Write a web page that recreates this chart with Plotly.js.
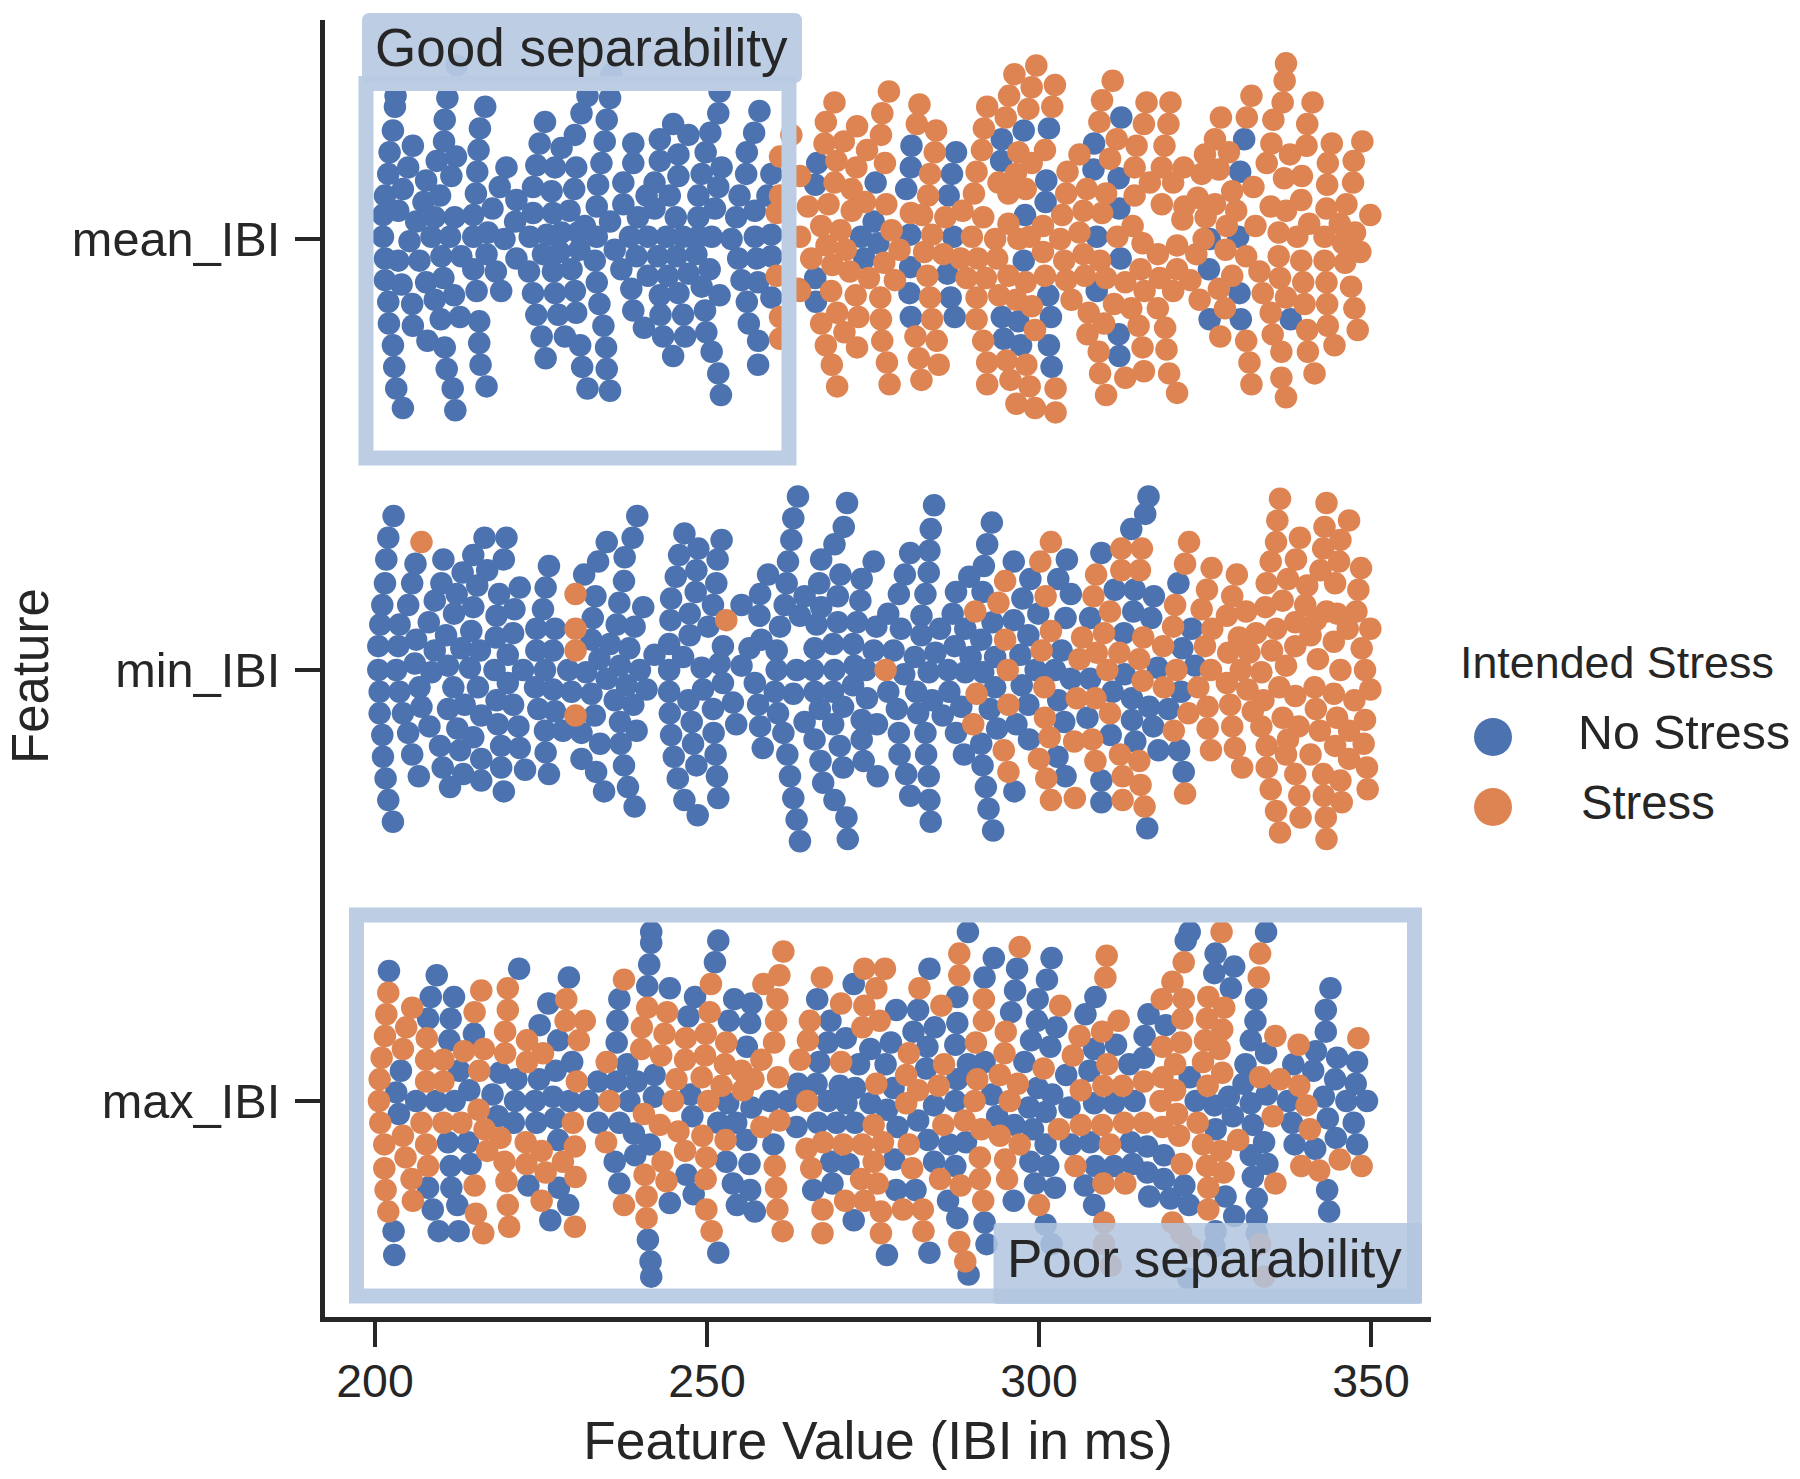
<!DOCTYPE html>
<html><head><meta charset="utf-8">
<script src="https://cdn.plot.ly/plotly-3.0.1.min.js"></script>
<style>html,body{margin:0;padding:0;background:#fff}#c{width:1800px;height:1479px}</style></head>
<body><div id="c"></div>
<script>
// Feature categories, top to bottom
const features = ["mean_IBI","min_IBI","max_IBI"];
const seriesNames = ["No Stress","Stress"];
const xTicks = [200,250,300,350];
// Each list: value (ms), swarm row, value (ms), swarm row, ...
const mean_no_stress = [
203.1,-6.6,203.0,-6.1,202.7,-5.0,202.2,-4.0,202.0,-3.0,201.5,-2.0,201.2,-1.1,201.2,-0.1,201.5,0.9,201.5,1.9,202.0,2.9,202.1,3.9,202.7,4.9,202.9,5.9,203.2,6.9,204.2,7.8,
205.7,-4.3,205.0,-3.3,204.2,-2.3,203.5,-1.3,205.2,0.1,203.5,1.0,204.0,2.1,205.6,3.0,205.7,4.0,207.9,4.7,210.5,5.0,210.8,6.0,211.7,6.9,212.1,7.9,
212.3,-8.0,210.9,-6.5,210.5,-5.5,210.4,-4.5,209.3,-3.6,207.7,-2.7,207.3,-1.7,206.2,-0.8,208.5,-0.1,206.7,1.0,207.7,2.0,209.0,2.8,209.9,3.7,212.8,3.6,215.7,3.8,215.7,4.8,215.9,5.8,216.8,6.8,
212.2,-3.8,211.5,-2.9,209.8,-2.0,209.0,-1.0,211.3,-0.1,210.0,0.8,213.0,0.8,210.3,1.8,211.9,2.6,215.3,2.4,
216.6,-6.1,215.8,-5.1,215.6,-4.1,215.4,-3.1,215.2,-2.1,214.8,-1.1,212.0,-1.0,214.8,-0.1,214.8,1.4,216.8,0.7,
217.7,-1.4,217.0,-0.3,218.8,-2.4,219.8,-3.3,219.5,0,221.3,0.9,218.2,1.5,219.0,2.4,
221.3,-1.8,221.1,-0.8,223.3,-0.1,223.2,1.5,223.8,2.5,224.3,3.5,225.1,4.5,225.7,5.5,
225.6,-5.4,224.8,-4.4,224.3,-3.4,223.8,-2.4,223.8,-1.2,225.3,0.7,
226.8,-1.2,226.6,-2.2,227.1,-3.3,228.1,-4.2,230.1,-4.8,231.1,-5.8,232.0,-6.6,
230.3,-3.3,230.0,-2.3,229.3,-1.3,225.9,-0.2,228.1,-0.3,230.6,-0.3,227.8,0.6,226.8,1.5,227.1,2.5,227.6,3.5,228.6,4.5,230.9,4.9,231.2,5.9,232.0,6.9,
235.6,-7.6,235.4,-6.5,234.9,-5.5,234.6,-4.5,234.1,-3.5,233.6,-2.5,233.4,-1.5,231.6,-0.6,233.4,-0.1,230.8,0.5,233.1,1.0,229.6,1.4,230.1,2.4,230.3,3.4,233.4,2.0,233.8,3.0,234.4,4.0,234.8,5.0,234.9,6.0,235.4,7.0,
236.1,0.5,235.4,-0.8,237.4,-1.6,237.4,-2.6,238.9,-3.5,238.9,-4.4,239.6,-1.0,238.4,-0.1,239.4,0.8,237.1,1.4,238.6,2.3,238.9,3.3,240.5,4.1,
242.9,-4.6,242.9,-3.6,242.1,-2.6,240.9,-2.0,242.1,-1.4,241.1,-0.1,243.9,-0.1,241.1,1.7,242.6,0.8,244.9,-5.3,247.2,-4.8,245.7,-3.9,245.7,-2.9,244.4,-2.0,245.3,-1.0,246.4,-0.1,245.4,0.8,244.1,1.7,247.2,1.6,242.9,2.6,245.7,2.5,243.0,3.5,246.4,3.5,243.4,4.5,246.7,4.5,244.9,5.4,
249.2,-3.0,249.8,-4.0,250.5,-4.9,251.7,-5.8,251.9,-6.8,252.2,-3.3,251.7,-2.4,248.7,-2.0,251.2,-1.4,248.7,-1.0,248.7,-0.1,250.7,-0.1,248.4,0.7,250.4,1.4,249.2,2.2,251.9,2.6,249.7,3.3,249.9,4.3,250.7,5.2,251.7,6.2,252.1,7.2,
257.9,-5.9,257.1,-4.9,256.0,-4.0,255.9,-3.0,254.9,-2.0,257.2,-1.3,254.4,-1.0,253.7,0,257.2,-0.1,254.7,0.9,257.5,0.9,255.2,1.9,257.7,2.0,256.0,2.9,256.3,3.9,257.7,4.7,257.7,5.8,
259.7,-3.0,259.1,-2.0,259.7,-0.2,259.7,0.8,259.7,2.7,
266.6,-3.5,266.3,-2.5,275.4,-2.6,280.8,-4.3,280.7,-3.3,280.0,-2.3,287.5,-4.0,286.9,-3.0,286.4,-2.0,275.1,-0.8,273.2,-0.1,275.8,0.2,273.7,0.9,280.6,-0.2,287.1,-0.1,280.6,1.3,286.2,1.6,266.3,1.8,266.4,2.9,280.5,2.5,286.7,2.7,280.7,3.6,287.3,3.6,
294.4,-4.6,297.7,-5.0,301.5,-5.1,294.3,-3.6,301.1,-2.7,301.0,-1.7,297.9,-1.1,297.7,1.0,301.4,2.6,301.8,3.6,294.4,3.6,296.9,3.8,294.7,4.6,297.3,4.9,301.5,4.9,301.9,5.9,
308.3,-4.4,312.4,-5.6,308.2,-3.2,312.0,-2.8,312.1,-1.4,308.7,-0.1,312.3,0.9,308.7,2.4,312.0,4.4,312.1,5.4,
330.9,-4.6,330.3,-3.1,325.7,0,330.0,-0.1,325.6,1.4,330.2,2.5,325.7,3.7,330.4,3.7,337.9,3.7];
const mean_stress = [
262.7,-4.8,261.0,-3.8,261.0,-2.0,260.5,-1.2,260.5,1.7,263.7,2.3,261.0,3.6,261.0,4.6,
269.2,-6.3,267.9,-5.4,267.7,-4.4,270.6,-4.5,272.6,-5.2,269.5,-3.6,269.2,-2.6,272.5,-3.3,274.1,-4.1,271.8,-2.3,277.4,-6.8,276.4,-5.8,276.2,-4.8,276.8,-3.5,
264.0,-2.9,265.2,-1.5,268.3,-1.6,271.8,-1.3,273.8,-1.7,277.0,-1.6,267.2,-0.6,270.1,-0.4,277.8,-0.4,264,-0.1,268.0,0.3,270.9,0.5,265.7,0.9,268.9,1.2,271.5,1.5,276.7,1.1,279.0,0.5,274.4,1.8,278.3,1.9,264,2.4,268.7,2.4,272.4,2.6,276.1,2.7,269.6,3.4,272.8,3.6,267.2,3.9,276.2,3.7,270.7,4.3,267.9,4.9,272.6,5.0,276.4,4.7,268.8,5.8,277.1,5.7,269.6,6.8,277.5,6.7,
282.0,-6.2,281.6,-5.3,284.5,-5.0,284.3,-4.0,283.6,-3.0,283.3,-2.0,280.7,-1.2,282.4,-1.1,283.9,-0.2,282.7,0.6,285.6,0.7,283.2,1.7,283.6,2.7,283.9,3.7,281.4,4.5,284.6,4.7,281.9,5.5,284.9,5.8,282.3,6.5,
285.9,-1.0,288.5,-1.3,291.6,-1.0,289.9,-0.1,288.2,0.9,290.8,0.9,293.7,0.9,289.1,1.8,292.0,1.8,290.6,2.7,290.6,3.7,291.6,4.7,292.2,5.7,295.1,5.6,298.1,5.8,292.2,6.7,295.7,6.5,298.6,6.8,302.5,6.9,296.6,7.6,299.4,7.8,302.5,8.0,
292.2,-6.1,291.7,-5.1,291.4,-4.1,290.6,-3.1,290.2,-2.1,293.9,-2.6,296.5,-3.0,298.9,-3.5,296.9,-4.0,300.9,-4.1,296.3,-7.6,299.6,-8.0,302.4,-7.1,295.5,-6.6,298.9,-7.0,302.0,-6.1,298.4,-6.0,295.0,-5.6,
298.0,-2.3,295.4,-2.1,295.4,-0.7,293.4,0,296.9,0,300.6,-0.6,303.5,-1.1,298.6,-0.1,300.6,0.6,295.4,1.7,298.0,2.0,300.9,1.7,294.0,2.6,296.6,2.8,298.9,3.1,299.4,4.2,
303.2,0,306.1,-0.3,303.8,1.0,306.7,0.7,309.2,1.0,304.1,1.9,306.9,1.7,310.1,1.8,313.0,2.0,304.9,2.8,307.5,3.4,311.3,3.0,313.9,3.2,309.8,3.9,307.3,4.4,315.0,4.0,309.0,5.2,315.6,5.0,309.2,6.2,313.0,6.4,315.8,6.1,310.1,7.2,
304.3,-3.1,306.1,-3.9,304.1,-2.1,307.2,-2.3,310.1,-2.1,306.7,-1.3,309.5,-1.2,
311.1,-7.3,309.5,-6.4,309.1,-5.4,311.7,-4.6,310.7,-3.7,314.7,-4.3,314.4,-3.3,314.4,-2.0,314.1,-0.6,311.8,-0.1,
316.2,-6.3,319.8,-6.3,315.8,-5.3,319.5,-5.3,318.9,-4.3,318.5,-3.3,321.8,-3.3,316.7,-2.6,320.2,-2.6,318.5,-1.6,321.9,-1.5,315.6,0.2,317.9,0.7,320.8,0.3,315.3,1.4,320.8,1.4,318.2,1.8,315.9,2.4,320.2,2.4,322.8,1.9,317.9,3.2,324.2,2.8,319.0,4.1,319.2,5.1,319.6,6.2,320.8,7.1,
327.4,-5.6,326.5,-4.6,325.0,-3.9,328.6,-4.0,324.5,-3.0,327.1,-3.2,323.9,-1.9,326.5,-1.6,329.1,-2.2,321.6,-0.9,325.1,-1.0,328.3,-0.6,332.6,-0.6,332.0,-6.6,331.3,-5.6,337.2,-8.1,337.0,-7.3,336.7,-6.3,335.3,-5.5,335.0,-4.4,334.3,-3.5,332.3,-2.4,334.9,-1.5,337.8,-3.9,341.2,-6.3,340.4,-5.3,340.3,-4.3,344.1,-4.4,348.7,-4.5,343.5,-3.5,347.4,-3.6,343.4,-2.5,347.3,-2.6,339.6,-2.9,336.9,-2.8,339.5,-1.8,343.3,-1.4,346.3,-1.6,349.9,-1.1,340.7,-0.7,345.3,-0.7,336.1,-0.3,338.9,-0.1,343.0,-0.1,347.6,-0.3,
323.7,0.7,328.1,0.5,331.2,0.8,336.1,0.8,339.5,1.0,343.0,1.0,348.4,0.6,345.8,0.2,346.1,1.1,329.1,1.7,333.2,1.5,336.3,1.8,339.8,2.0,343.3,2.0,327.1,2.3,333.7,2.5,337.2,2.7,340.0,3.0,343.4,3.0,347.0,2.2,328.0,3.2,334.9,3.4,347.5,3.2,340.4,4.2,343.5,4.0,348.0,4.2,327.3,4.5,331.2,4.7,335.2,4.4,336.5,5.2,340.5,5.2,344.5,4.9,331.7,5.7,336.5,6.4,341.5,6.2,332.0,6.7,337.2,7.3,
329.7,-1.3,337.2,-1.3,324.8,0];
const min_no_stress = [
202.8,-7.1,202.0,-6.1,201.7,-5.1,201.5,-4.0,201.1,-3.0,200.8,-2.1,200.5,-1.1,200.5,0,200.7,1.0,200.7,2.0,201.1,3.0,201.2,4.0,201.6,5.0,202.0,6.0,202.7,7.0,
206.1,-4.9,205.6,-4.0,205.0,-3.0,203.7,-2.1,203.5,-1.1,203.2,0,203.7,1.0,204.2,2.0,205.0,2.9,205.6,3.9,206.6,4.9,
210.3,-5.1,210.0,-4.0,209.0,-3.2,208.1,-2.2,206.2,-1.4,206.0,-0.3,206.7,0.8,207.0,1.7,208.2,2.6,209.8,3.5,210.2,4.5,211.3,5.4,
216.5,-6.1,214.8,-5.3,213.2,-4.5,212.3,-3.5,211.9,-2.6,210.7,-1.6,209.0,-0.9,208.5,0.1,211.8,0.8,211.0,1.8,212.4,2.7,212.8,3.7,213.3,4.8,
219.8,-6.1,219.4,-5.1,216.9,-4.6,215.4,-3.9,214.8,-2.9,214.5,-1.8,213.0,-1.0,211.0,-0.2,214.3,-0.1,215.8,-0.9,215.5,0.8,213.5,1.6,216.0,2.1,214.8,3.1,216.0,4.1,216.0,5.1,
221.8,-3.8,218.7,-3.5,221.0,-2.8,218.3,-2.5,220.8,-1.7,218.2,-1.5,220.0,-0.7,218.0,0,220.0,0.6,218.3,1.4,220.8,1.6,218.5,2.5,221.6,2.6,219.0,3.5,221.8,3.6,219.0,4.5,222.6,4.6,219.4,5.6,
226.2,-4.8,225.7,-3.8,225.3,-2.8,224.3,-1.9,227.1,-1.9,224.3,-0.9,226.8,-0.9,222.3,0,225.6,0,224.1,0.8,226.8,0.9,224.6,1.8,227.1,1.9,225.6,2.8,228.3,2.8,225.7,3.8,226.2,4.8,
239.5,-7.1,238.8,-6.1,237.6,-5.2,234.9,-5.9,233.6,-5.0,231.5,-4.4,237.5,-4.1,233.2,-3.4,236.8,-3.1,232.8,-2.4,240.4,-2.9,236.4,-2.1,239.1,-2.0,232.6,-1.4,235.4,-1.2,238.3,-1.0,233.8,-0.5,236.9,-0.2,229.1,0,231.8,0.1,239.9,0,234.9,0.4,237.9,0.7,240.9,0.9,229.6,1.0,232.6,1.1,236.1,1.4,238.9,1.6,233.1,2.1,236.9,2.4,239.4,2.8,231.1,2.9,233.9,3.4,237.0,3.4,231.1,4.1,237.5,4.4,233.3,4.7,238.1,5.4,234.5,5.6,239.1,6.3,
246.6,-6.3,248.7,-5.6,245.8,-5.3,252.2,-6.0,251.6,-5.1,248.4,-4.6,245.3,-4.3,251.4,-4.0,248.3,-3.6,244.6,-3.3,250.9,-3.0,247.4,-2.6,244.5,-2.3,255.2,-3.0,250.2,-2.0,247.4,-1.6,244.3,-1.2,242.1,-0.7,246.4,-0.6,244.3,0,249.2,-0.1,252.4,-1.1,256.4,-1.0,251.9,-0.3,255.2,-0.2,252.4,0.6,244.3,1.0,249.4,0.9,253.9,1.5,247.2,1.4,244.4,2.0,250.9,1.8,247.7,2.4,254.4,2.5,244.6,3.0,251.0,2.9,247.9,3.4,251.3,3.9,245.0,4.0,248.4,4.4,251.5,4.9,245.6,5.0,251.7,5.9,246.6,6.0,248.6,6.7,
263.7,-8.0,263.0,-7.0,262.7,-6.0,262.2,-5.0,259.2,-4.4,262.0,-4.0,258.0,-3.5,261.7,-3.0,257.9,-2.5,261.0,-2.0,264.0,-2.5,258.2,-1.4,260.5,-0.9,257.2,0.6,260.5,0,263.5,0,260.2,1.0,257.7,1.6,263.0,1.1,260.7,2.0,258.0,2.6,261.5,2.9,258.4,3.6,262.1,3.9,262.5,4.9,263.0,5.9,263.5,6.9,264.0,7.9,
271.1,-7.7,270.6,-6.6,269.2,-5.8,267.2,-5.1,266.9,-4.0,270.1,-4.4,264.7,-3.4,269.7,-3.4,267.2,-2.9,266.5,-2.1,269.7,-2.2,266.2,-1.0,269.0,-1.2,272.0,-1.2,266.0,0,269.2,0,272.2,-0.2,266.2,1.0,269.0,1.0,272.0,0.7,267.0,1.8,270.5,1.7,264.7,2.4,269.0,2.5,273.3,2.3,266.2,3.2,270.0,3.5,267.1,4.2,270.5,4.5,267.5,5.2,269.2,6.0,271.0,6.8,271.2,7.8,
275.1,-5.0,273.3,-4.2,273.1,-3.2,277.3,-2.6,275.5,-2.0,272.6,-2.2,279.2,-1.9,275.1,-0.9,278.1,-0.9,273.9,0,279.7,0.2,274.1,1.3,277.3,1.0,278.6,1.8,275.6,2.5,278.9,2.9,273.3,3.2,273.6,4.2,279.0,3.9,275.7,4.9,280.0,4.8,280.6,5.8,
284.2,-7.6,283.7,-6.5,283.5,-5.5,280.6,-5.4,279.8,-4.4,283.4,-4.5,278.9,-3.5,282.9,-3.5,282.3,-2.5,282.3,-1.6,285.1,-1.9,281.3,-0.6,284.4,-0.8,283.4,0.1,281.5,1.0,286.3,0,286.5,1.0,281.8,2.0,283.9,1.4,285.5,2.1,282.9,2.9,283.0,3.9,283.4,4.9,283.5,6.0,283.7,7.0,
292.9,-6.8,292.2,-5.8,291.7,-4.8,289.5,-4.3,287.5,-3.6,291.5,-3.6,287.0,-2.6,288.9,-1.9,291.3,-1.4,287.3,-1.1,289.7,-0.6,293.4,-0.6,288.9,0.1,291.6,0.1,288.3,1.7,293.4,0.8,292.6,1.8,287.5,2.9,293.7,2.7,296.6,2.5,288.7,3.9,291.3,3.4,291.5,4.4,292.0,5.4,292.4,6.4,293.1,7.4,
296.2,-5.0,298.7,-4.2,297.5,-3.3,296.2,-2.3,293.0,-2.2,298.4,-1.6,299.9,-2.6,297.2,-0.7,297.4,0.7,298.4,1.6,298.5,3.2,296.3,5.6,
304.2,-5.1,302.9,-4.2,304.8,-3.5,304.0,-2.4,303.4,-0.9,299.5,0,302.4,0,304.8,0.4,307.7,0.4,302.9,1.4,303.8,2.4,307.3,2.2,302.8,4.0,304.0,4.9,
309.4,-5.4,311.4,-3.7,307.7,-2.4,314.4,-3.7,317.3,-3.4,314.2,-2.7,316.9,-2.4,312.8,-1.7,312.9,0.2,311.1,1.0,314.0,1.3,316.6,1.7,319.5,1.8,314.0,2.3,317.2,2.6,310.8,3.0,314.5,3.3,318.0,3.7,321.1,3.7,321.8,4.7,309.4,5.1,309.4,6.1,316.3,7.3,
313.9,-6.5,316.0,-7.2,316.5,-8.0,321.0,-4.0,323.0,-1.9,321.6,-1.0,323.5,-0.2,317.9,-0.1,321.4,1.0];
const min_stress = [
207.0,-5.9,230.2,-3.5,230.2,-1.9,230.2,-0.9,230.2,2.1,252.9,-2.3,276.9,0,
290.4,-2.7,293.9,-3.1,294.9,-4.1,300.2,-5.0,301.8,-5.9,301.0,-3.4,294.9,-1.4,295.3,0,290.6,1.1,295.4,1.6,290.1,2.5,301.8,-1.8,300.4,-0.9,306.5,-1.5,306.1,-0.5,308.6,-4.4,308.2,-3.4,310.7,-2.7,309.8,-1.7,308.7,-0.8,312.1,-0.8,315.7,-1.5,315.1,-0.5,310.3,0,315.6,0.5,318.8,0.8,318.7,-1.1,300.8,0.8,305.7,1.3,308.5,1.3,310.7,2.0,300.9,2.2,301.6,3.1,305.3,3.3,308.0,3.2,294.7,3.7,295.4,4.7,300.0,4.1,301.1,5.0,301.8,6.0,305.4,5.9,308.5,4.2,312.2,3.9,315.1,4.2,312.6,4.9,315.3,5.3,312.6,6.0,315.9,6.3,322.0,5.7,320.3,2.8,312.4,-5.6,315.5,-5.6,312.4,-4.6,315.2,-4.6,322.6,-5.9,322.0,-4.9,320.5,-3.0,320.2,-2.0,320.7,0,324.5,-2.8,325.0,-1.1,325.3,-3.7,326.0,-4.7,329.8,-4.4,329.1,-3.4,
336.3,-7.9,343.3,-7.7,335.9,-6.9,346.7,-6.9,343.0,-6.6,335.7,-5.9,339.3,-6.1,345.4,-6.0,342.8,-5.6,334.9,-5.0,338.7,-5.1,345.2,-5.0,342.4,-4.6,348.5,-4.7,334.3,-4.0,337.5,-4.2,340.4,-3.9,344.6,-4.0,348.1,-3.7,336.7,-3.2,334.1,-2.9,340.1,-3.0,343.3,-2.7,331.2,-2.7,328.3,-2.5,347.8,-2.7,344.9,-2.6,326.1,-1.9,330.1,-1.5,332.7,-1.7,335.7,-1.9,338.6,-2.2,341.7,-2.3,346.5,-1.9,349.9,-1.9,328.5,-0.8,331.7,-0.8,335.1,-0.9,338.6,-1.1,340.9,-1.6,344.4,-1.3,348.6,-1.0,325.9,0,330.4,0,333.5,0.1,337.2,-0.2,342.0,-0.5,345.4,0,349.1,0,324.0,0.8,328.3,0.6,331.4,0.9,336.2,0.8,341.5,0.8,344.4,1.1,349.9,0.9,325.4,1.7,322.5,2.0,328.8,1.6,333.8,1.4,338.6,1.2,347.5,1.4,332.2,1.9,341.7,1.8,336.7,2.2,344.9,2.2,349.1,2.3,325.4,2.7,329.1,2.6,333.5,2.6,339.1,2.6,342.3,2.8,346.7,2.8,325.9,3.7,329.5,3.6,334.3,3.5,337.5,3.2,344.6,3.5,348.9,3.4,340.9,3.9,337.2,3.9,346.7,4.1,330.6,4.5,334.3,4.5,338.6,4.8,342.8,4.8,349.4,4.5,345.4,5.1,334.9,5.5,339.2,5.8,342.9,5.8,349.5,5.5,345.6,6.1,335.7,6.5,339.4,6.8,343.2,6.8,336.3,7.5,343.3,7.8];
const max_no_stress = [
202.1,-6.0,209.3,-5.8,221.7,-6.1,229.2,-5.7,208.4,-4.8,211.9,-4.8,226.1,-4.5,208.0,-3.8,211.4,-3.8,224.8,-3.5,214.9,-3.1,211.2,-2.8,227.6,-2.8,229.7,-1.8,203.9,-1.4,212.7,-1.4,218.8,-1.3,221.3,-1.0,224.7,-1.0,227.2,-1.4,238.0,-1.7,242.1,-1.2,233.6,-0.9,236.4,-0.9,239.4,-0.9,203.2,-0.4,214.2,-0.5,217.7,-0.3,206.2,0,209.2,0,212.0,0,221.1,0,224.1,0,226.8,-0.2,229.3,0,232.1,0,238.3,0,242.0,-0.2,203.6,0.6,218.5,0.7,220.9,1.0,224.3,1.0,227.1,0.8,233.6,1.0,236.8,1.0,239.0,1.5,227.6,1.8,241.4,2.0,211.0,1.9,214.0,1.9,239.2,2.5,236.1,2.8,211.4,3.0,214.4,2.9,236.8,3.8,208.0,4.0,211.5,4.0,223.1,3.9,227.7,4.0,208.7,5.0,212.4,4.8,229.1,4.8,226.4,5.5,202.8,6.0,209.6,6.0,212.6,6.0,202.9,7.1,
241.6,-7.8,241.6,-7.3,241.3,-6.3,241.0,-5.3,244.4,-5.2,236.8,-4.7,236.5,-3.7,236.4,-2.7,251.7,-7.4,251.2,-6.4,248.2,-4.8,254.1,-4.7,256.7,-4.5,247.2,-3.9,253.3,-3.7,256.5,-3.6,256.0,-2.5,247.5,-0.3,247.8,0.7,253.2,0.1,256.7,0.3,259.5,0,262.2,0,251.7,1.0,254.4,1.0,255.9,1.8,260.0,2.0,252.9,2.8,256.4,2.9,246.9,3.4,253.9,3.8,256.5,4.1,248.0,4.3,254.5,4.8,257.2,5.1,244.4,4.7,241.1,6.4,241.5,7.4,241.6,8.1,251.7,7.0,
266.6,-4.7,268.6,-3.7,270.9,-2.9,268.2,-2.7,266.9,-1.8,263.7,-0.8,266.5,-0.8,270.0,-0.7,268.2,0,271.0,0.1,263.5,1.2,266.7,1.0,269.5,1.0,268.7,2.8,271.3,2.9,268.9,3.8,266.0,4.1,
289.3,-7.8,293.2,-6.6,296.7,-6.1,301.9,-6.6,283.5,-6.1,301.2,-5.6,291.8,-5.7,296.4,-5.1,272.1,-5.4,287.7,-4.8,299.8,-4.7,295.8,-4.1,278.5,-4.2,281.8,-4.2,284.3,-3.4,287.7,-3.6,281.1,-3.2,299.7,-3.7,302.6,-3.4,277.7,-2.7,298.8,-2.8,287.4,-2.6,301.7,-2.5,274.6,-2.4,283.2,-2.5,289.3,-1.7,291.8,-1.8,297.8,-1.8,272.9,-1.7,276.9,-1.7,283.0,-1.5,287.7,-1.0,304.1,-1.2,278.1,-0.6,272.3,-0.6,299.8,-0.6,292.9,-0.3,274.6,0.1,277.1,0.4,284.2,0.2,287.4,0,302.0,-0.3,304.6,0.3,298.5,0.3,301.0,0.5,293.7,0.7,296.3,1.1,299.1,1.3,281.8,0.9,278.7,1.2,272.3,1.0,283.3,1.8,286.5,2.0,289.0,1.9,301.0,2.0,304.8,2.0,307.7,1.9,284.2,2.8,287.4,3.0,278.2,2.7,298.7,2.8,301.4,3.0,299.4,3.8,302.4,4.0,278.5,4.1,281.4,4.1,286.3,4.6,296.2,4.6,287.7,5.4,291.8,5.6,272.1,5.5,277.1,7.1,283.5,7.0,289.4,8.0,292.1,6.6,
308.5,-4.8,307.0,-4.0,311.6,-2.6,308.3,-2.4,307.6,-1.4,313.6,-1.7,315.8,-2.0,316.5,-4.0,319.1,-3.5,315.9,-3.0,308.3,0.1,311.3,0.1,314.4,0,313.8,1.9,316.3,2.1,318.8,2.5,308.5,3.0,311.3,3.0,314.1,2.9,316.3,3.3,318.8,3.6,321.9,3.9,306.9,3.9,316.6,4.4,319.8,4.5,322.6,4.8,308.3,4.8,
322.7,-7.8,322.1,-7.4,326.6,-6.8,329.4,-6.2,326.4,-5.9,328.9,-5.2,332.7,-4.7,332.6,-3.7,331.9,-2.8,334.2,-2.2,331.1,-1.7,322.7,-1.1,330.8,-0.8,323.6,0,326.4,0.2,328.6,-0.2,331.9,0.1,334.3,-0.3,337.5,0,329.2,0.7,332.2,1.1,326.6,1.3,333.9,1.9,331.9,2.5,334.4,2.9,332.2,3.5,328.1,4.4,332.8,4.5,329.4,5.3,334.2,-7.8,332.8,5.4,
343.9,-5.2,343.2,-4.2,343.2,-3.2,341.7,-2.3,338.3,-1.7,341.3,-1.4,344.9,-2.0,347.9,-1.8,344.6,-1.0,347.7,-0.8,342.9,-0.2,346.3,0,349.4,0,343.5,0.8,347.4,1.0,338.1,1.0,344.7,1.7,347.9,2.0,338.5,2.0,341.6,2.2,343.4,4.1,343.7,5.1,
326.6,6.0,326.4,6.7,301.0,5.7,301.9,6.6,322.5,8.2,332.8,6.1];
const max_stress = [
202.0,-5.0,201.7,-4.0,205.6,-4.3,204.7,-3.4,201.5,-3.0,204.2,-2.4,201.0,-2.0,200.7,-1.0,200.6,0,200.8,1.0,204.2,1.6,201.4,2.0,204.6,2.6,201.4,3.1,205.5,3.6,201.6,4.1,202.0,5.1,205.7,4.6,
216.0,-5.1,220.0,-5.2,215.0,-4.1,220.0,-4.2,219.6,-3.2,207.8,-2.9,207.7,-1.9,210.3,-1.9,213.4,-2.3,216.4,-2.4,219.6,-2.2,207.7,-0.9,210.3,-0.9,215.7,-1.4,215.6,0.4,207.0,1.0,210.3,1.0,213.0,1.0,216.5,1.3,207.7,2.0,208.0,3.0,218.9,1.7,216.9,2.3,219.5,2.8,219.8,3.7,215.0,3.9,220.0,4.8,215.2,5.2,220.2,5.8,216.3,6.1,
228.8,-4.7,231.6,-3.7,228.7,-3.7,222.9,-2.8,230.7,-2.8,225.3,-2.2,222.9,-1.8,230.4,-0.9,229.8,1.0,230.1,2.1,222.7,1.9,225.1,2.3,228.3,2.8,222.8,2.9,225.7,3.3,230.2,3.5,225.1,4.6,230.1,5.8,234.9,-1.8,237.5,-5.6,234.8,1.9,235.3,0,
261.5,-6.9,260.9,-5.8,258.5,-5.4,250.6,-5.4,260.6,-4.7,241.0,-4.3,244.0,-4.1,250.4,-4.1,260.4,-3.7,240.2,-3.4,243.6,-3.1,249.8,-3.1,246.8,-2.9,252.9,-2.7,260.1,-2.7,240.1,-2.4,243.1,-2.1,249.7,-2.1,246.7,-1.9,252.7,-1.7,258.2,-1.9,255.2,-1.4,245.4,-1.0,249.2,-1.1,252.2,-0.7,257.0,-1.0,260.7,-1.1,255.4,-0.5,244.9,0,250.2,0,240.5,0.6,242.9,1.1,245.7,1.4,249.3,1.6,252.8,1.8,246.7,2.3,249.9,2.6,243.3,2.8,240.6,3.4,243.9,3.7,249.8,3.6,240.9,4.4,237.5,4.8,240.9,5.4,249.9,5.0,250.7,6.0,260.9,0.9,258.2,1.2,260.2,3.0,260.4,4.0,260.6,5.0,261.4,6.0,265.1,0,
267.3,-5.7,270.2,-4.5,265.5,-3.7,265.2,-2.8,264.0,-1.9,270.2,-1.8,265.0,2.2,267.5,1.9,270.5,2.0,265.7,3.1,267.4,5.0,267.4,6.1,270.8,4.6,
273.7,-6.1,276.8,-6.1,275.5,-5.2,273.7,-4.4,276.0,-3.7,273.4,-3.4,282.0,-5.2,285.3,-4.4,288.0,-6.8,288.0,-5.8,297.1,-7.1,291.7,-4.7,291.7,-3.7,290.5,-2.7,295.0,-3.2,294.8,-2.2,280.4,-2.2,285.7,-1.7,280.0,-1.2,275.5,-0.8,281.8,-0.5,284.9,-0.7,290.7,-1.0,294.1,-1.2,296.8,-0.8,300.7,-1.5,290.3,0,295.6,0,280.0,0.1,275.1,1.1,285.6,1.1,288.8,0.9,291.3,1.3,294.1,1.6,297.1,2.0,273.4,2.0,276.5,1.9,280.4,2.0,291.1,2.6,294.9,2.7,275.1,2.8,280.9,3.1,273.2,3.6,275.7,3.8,285.1,3.6,288.2,3.9,291.1,3.6,295.2,3.6,273.7,4.6,276.2,5.1,279.5,5.0,282.5,5.0,291.6,4.6,300.0,4.8,276.2,6.1,282.6,6.0,288.0,6.5,288.9,7.4,
303.2,-4.4,310.2,-6.7,310.0,-5.7,312.0,-3.7,309.5,-3.2,306.1,-3.0,305.1,-2.1,310.3,-1.7,306.3,-0.5,309.7,-0.7,312.6,-0.7,315.8,-0.9,318.6,-1.1,320.5,-1.7,320.5,-0.5,318.3,0,320.8,0.6,303.0,1.3,306.3,1.1,309.5,1.1,312.8,1.0,315.8,1.0,318.6,1.2,321.1,1.6,323.9,1.0,310.7,2.0,321.5,2.9,305.5,3.0,309.7,3.8,313.0,3.8,
321.8,-6.4,320.1,-5.5,318.5,-4.7,321.8,-4.7,321.6,-3.8,318.6,-2.5,321.4,-2.7,325.5,-4.8,327.9,-4.3,325.3,-3.8,327.6,-3.3,325.0,-2.8,327.2,-2.4,324.7,-1.8,327.6,-1.3,325.4,-0.7,327.5,-7.8,333.3,-6.8,333.1,-5.7,335.6,-3.0,339.1,-2.6,348.1,-2.9,333.3,-1.1,336.3,-1.0,339.2,-0.7,340.3,0.2,335.2,0.7,340.8,1.3,330.0,1.8,324.7,2.0,327.4,2.3,325.3,3.0,327.8,3.3,325.5,4.0,325.5,5.0,335.6,3.8,339.5,3.0,342.2,3.2,345.3,2.7,348.6,3.0,309.8,5.6,320.1,5.6,
309.8,6.6,310.8,7.6,321.4,6.1,322.7,6.7,333.3,6.6,333.9,8.1];

const C = {blue:'#4c72b0', orange:'#dd8452', ink:'#262626', band:'#bdcee4', bandTop:'rgba(184,202,226,0.93)', bandBottom:'rgba(178,197,223,0.85)'};
const F = '"Liberation Sans", Arial, sans-serif';
const W = {l:325, r:1431, t:20, b:1317};
const rowStep = 0.0503;
function expand(lists){
  const xs=[], ys=[];
  lists.forEach((flat,cat)=>{
    for(let i=0;i<flat.length;i+=2){ xs.push(flat[i]); ys.push(cat+flat[i+1]*rowStep); }
  });
  return {x:xs,y:ys};
}
const blue = expand([mean_no_stress,min_no_stress,max_no_stress]);
const orange = expand([mean_stress,min_stress,max_stress]);
const mk = (d,n,c)=>({type:'scatter',mode:'markers',x:d.x,y:d.y,name:n,showlegend:false,hoverinfo:'x+name',
  marker:{size:22.5,color:c,line:{width:0}},cliponaxis:false});
const data = [mk(blue,seriesNames[0],C.blue), mk(orange,seriesNames[1],C.orange)];

const px = p=>(p-W.l)/(W.r-W.l), py = p=>1-(p-W.t)/(W.b-W.t);
const frame = (x0,y0,x1,y1)=>({type:'rect',xref:'paper',yref:'paper',x0:px(x0),x1:px(x1),y0:py(y0),y1:py(y1),
  line:{color:C.band,width:15},fillcolor:'rgba(0,0,0,0)',layer:'above'});
function rounded(x0,y0,x1,y1,r,fill){
  const X=px,Y=py;
  return {type:'path',xref:'paper',yref:'paper',layer:'above',fillcolor:fill,line:{width:0},
    path:`M${X(x0+r)},${Y(y0)} L${X(x1-r)},${Y(y0)} Q${X(x1)},${Y(y0)} ${X(x1)},${Y(y0+r)} L${X(x1)},${Y(y1-r)} Q${X(x1)},${Y(y1)} ${X(x1-r)},${Y(y1)} L${X(x0+r)},${Y(y1)} Q${X(x0)},${Y(y1)} ${X(x0)},${Y(y1-r)} L${X(x0)},${Y(y0+r)} Q${X(x0)},${Y(y0)} ${X(x0+r)},${Y(y0)} Z`};
}
const dot = (cx,cy,d,c)=>({type:'circle',xref:'paper',yref:'paper',x0:px(cx-d/2),x1:px(cx+d/2),y0:py(cy-d/2),y1:py(cy+d/2),fillcolor:c,line:{width:0},layer:'above'});
const note = (t,x,y,size,anchor,angle)=>({text:t,xref:'paper',yref:'paper',x:px(x),y:py(y),xanchor:anchor||'left',yanchor:'middle',showarrow:false,
  font:{family:F,size:size,color:C.ink},borderpad:0,align:'left',textangle:angle||0});

const layout = {
  width:1800,height:1479,paper_bgcolor:'#fff',plot_bgcolor:'#fff',showlegend:false,
  font:{family:F,color:C.ink},
  margin:{l:W.l,r:1800-W.r,t:W.t,b:1479-W.b,pad:0},
  xaxis:{range:[192.47,359.04],tickmode:'array',tickvals:xTicks,ticktext:xTicks.map(String),ticks:'outside',ticklen:25,tickwidth:4,tickcolor:C.ink,
    showline:true,linecolor:C.ink,linewidth:5,showgrid:false,zeroline:false,tickfont:{family:F,size:46.4,color:C.ink},ticklabelstandoff:-6,
    title:{text:'Feature Value (IBI in ms)',font:{family:F,size:53.4,color:C.ink},standoff:17},automargin:false},
  yaxis:{range:[2.501,-0.508],tickmode:'array',tickvals:[0,1,2],ticktext:features,ticks:'outside',ticklen:25,tickwidth:4,tickcolor:C.ink,
    showline:true,linecolor:C.ink,linewidth:5,showgrid:false,zeroline:false,tickfont:{family:F,size:48.7,color:C.ink},ticklabelstandoff:5},
  shapes:[
    frame(366,83.5,789,458),
    frame(356.5,915,1414.5,1296),
    rounded(362,13,802,83,8,C.bandTop),
    rounded(993.5,1223,1422,1304,4,C.bandBottom),
    dot(1493,737,38,C.blue),
    dot(1493,807,38,C.orange)
  ],
  annotations:[
    note('Feature',30,676,51,'center',-90),
    note('Good separability',581,48,53,'center'),
    note('Poor separability',1204,1258,53,'center'),
    note('Intended Stress',1459,662,44.8),
    note(seriesNames[0],1577,732,48.3),
    note(seriesNames[1],1580,802,47.2)
  ]
};
Plotly.newPlot('c',data,layout,{displayModeBar:false,responsive:false,staticPlot:true});
</script></body></html>
